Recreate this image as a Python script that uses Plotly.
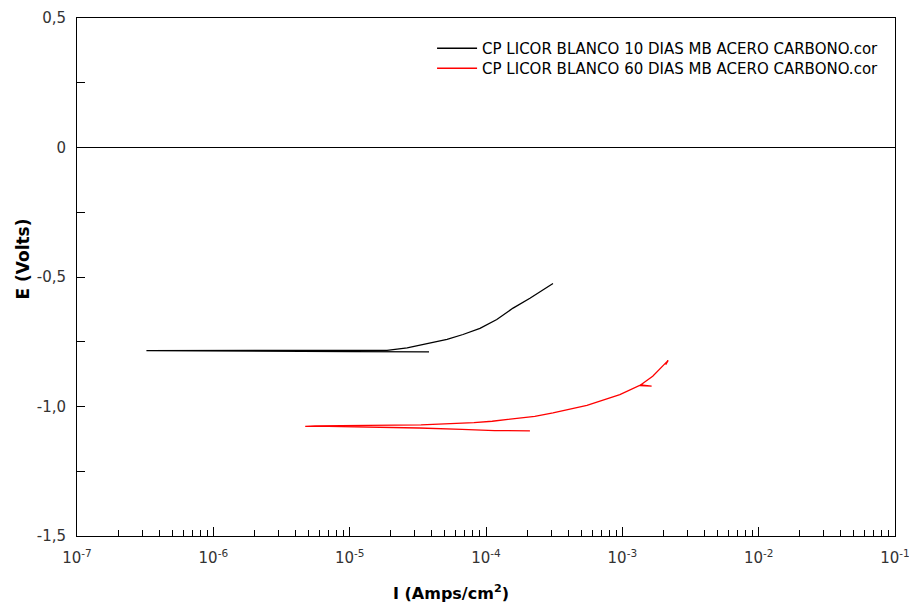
import plotly.graph_objects as go

# Potentiodynamic polarisation scans (current density in A/cm², potential in V)
i_10d = [3.82e-5, 2.0e-5, 1.01e-5, 3.23e-7, 8.0e-6, 1.88e-5, 2.64e-5, 3.89e-5,
         5.18e-5, 6.78e-5, 9.03e-5, 1.20e-4, 1.58e-4, 2.10e-4, 3.10e-4]
e_10d = [-0.789, -0.789, -0.788, -0.784, -0.783, -0.783, -0.774, -0.755,
         -0.741, -0.722, -0.698, -0.664, -0.620, -0.582, -0.525]

i_60d = [2.10e-4, 1.16e-4, 6.67e-5, 3.23e-5, 5.58e-6, 4.72e-6, 5.58e-6, 3.34e-5,
         5.26e-5, 8.16e-5, 1.11e-4, 1.63e-4, 2.28e-4, 3.10e-4, 5.50e-4, 9.59e-4,
         1.34e-3, 1.64e-3, 1.36e-3, 1.67e-3, 2.12e-3, 2.17e-3, 2.08e-3]
e_60d = [-1.094, -1.093, -1.088, -1.083, -1.076, -1.077, -1.075, -1.071,
         -1.067, -1.062, -1.057, -1.048, -1.038, -1.025, -0.996, -0.954,
         -0.919, -0.921, -0.917, -0.883, -0.829, -0.822, -0.838]

names = ["CP LICOR BLANCO 10 DIAS MB ACERO CARBONO.cor",
         "CP LICOR BLANCO 60 DIAS MB ACERO CARBONO.cor"]

x_decades = [1e-7, 1e-6, 1e-5, 1e-4, 1e-3, 1e-2, 1e-1]
x_ticktext = ["10<sup>-7</sup>", "10<sup>-6</sup>", "10<sup>-5</sup>", "10<sup>-4</sup>",
              "10<sup>-3</sup>", "10<sup>-2</sup>", "10<sup>-1</sup>"]
y_tickvals = [0.5, 0, -0.5, -1.0, -1.5]
y_ticktext = ["0,5", "0", "-0,5", "-1,0", "-1,5"]

x_minor = [m * d for d in x_decades[:-1] for m in range(2, 10)]

FONT = "DejaVu Sans, Verdana, sans-serif"
TOP, BOTTOM = 18, 73
PLOT_H = 609 - TOP - BOTTOM
PLOT_W = 819

fig = go.Figure()
fig.add_trace(go.Scatter(x=i_10d, y=e_10d, mode="lines", name=names[0],
                         legend="legend",
                         line=dict(color="black", width=1.3)))
fig.add_trace(go.Scatter(x=i_60d, y=e_60d, mode="lines", name=names[1],
                         legend="legend2",
                         line=dict(color="#ff0000", width=1.3)))

# zero-potential reference line
fig.add_shape(type="line", xref="paper", x0=0, x1=1, yref="y", y0=0, y1=0,
              line=dict(color="black", width=1))

fig.update_xaxes(type="log", range=[-7, -1], showgrid=False, zeroline=False,
                 automargin=False, ticklabeloverflow="allow",
                 showline=True, linecolor="black", linewidth=1, mirror=True,
                 ticks="inside", ticklen=9, tickcolor="black",
                 tickmode="array", tickvals=x_decades, ticktext=x_ticktext,
                 ticklabelstandoff=8,
                 tickfont=dict(family=FONT, size=15, color="#333333"),
                 minor=dict(tickmode="array", tickvals=x_minor, ticks="inside",
                            ticklen=6, tickcolor="black", showgrid=False))
fig.update_yaxes(range=[-1.5, 0.5], showgrid=False, zeroline=False,
                 automargin=False, ticklabeloverflow="allow",
                 showline=True, linecolor="black", linewidth=1, mirror=True,
                 ticks="inside", ticklen=8, tickcolor="black",
                 tickmode="array", tickvals=y_tickvals, ticktext=y_ticktext,
                 ticklabelstandoff=7,
                 tickfont=dict(family=FONT, size=15, color="#333333"),
                 minor=dict(dtick=0.25, ticks="inside", ticklen=8,
                            tickcolor="black", showgrid=False))

fig.add_annotation(text="<b>I (Amps/cm<sup>2</sup>)</b>", xref="paper", yref="paper",
                   x=(451 - 76.5) / PLOT_W, y=-(592 - (609 - BOTTOM)) / PLOT_H,
                   xanchor="center", yanchor="middle", showarrow=False,
                   font=dict(family=FONT, size=16, color="black"))
fig.add_annotation(text="<b>E (Volts)</b>", xref="paper", yref="paper",
                   x=-(76.5 - 22) / PLOT_W, y=((609 - BOTTOM) - 259) / PLOT_H,
                   xanchor="center", yanchor="middle", textangle=-90,
                   showarrow=False, font=dict(family=FONT, size=17, color="black"))

legend_style = dict(xanchor="left", yanchor="top", x=(432 - 76.5) / PLOT_W,
                    bgcolor="rgba(0,0,0,0)", borderwidth=0,
                    font=dict(family=FONT, size=15, color="black"),
                    itemwidth=40)

fig.update_layout(width=909, height=609,
                  margin=dict(l=76.5, r=13.5, t=TOP, b=BOTTOM),
                  paper_bgcolor="white", plot_bgcolor="white",
                  showlegend=True,
                  legend=dict(legend_style, y=((609 - BOTTOM) - 32) / PLOT_H),
                  legend2=dict(legend_style, y=((609 - BOTTOM) - 52) / PLOT_H))

fig.write_html("out.html")
